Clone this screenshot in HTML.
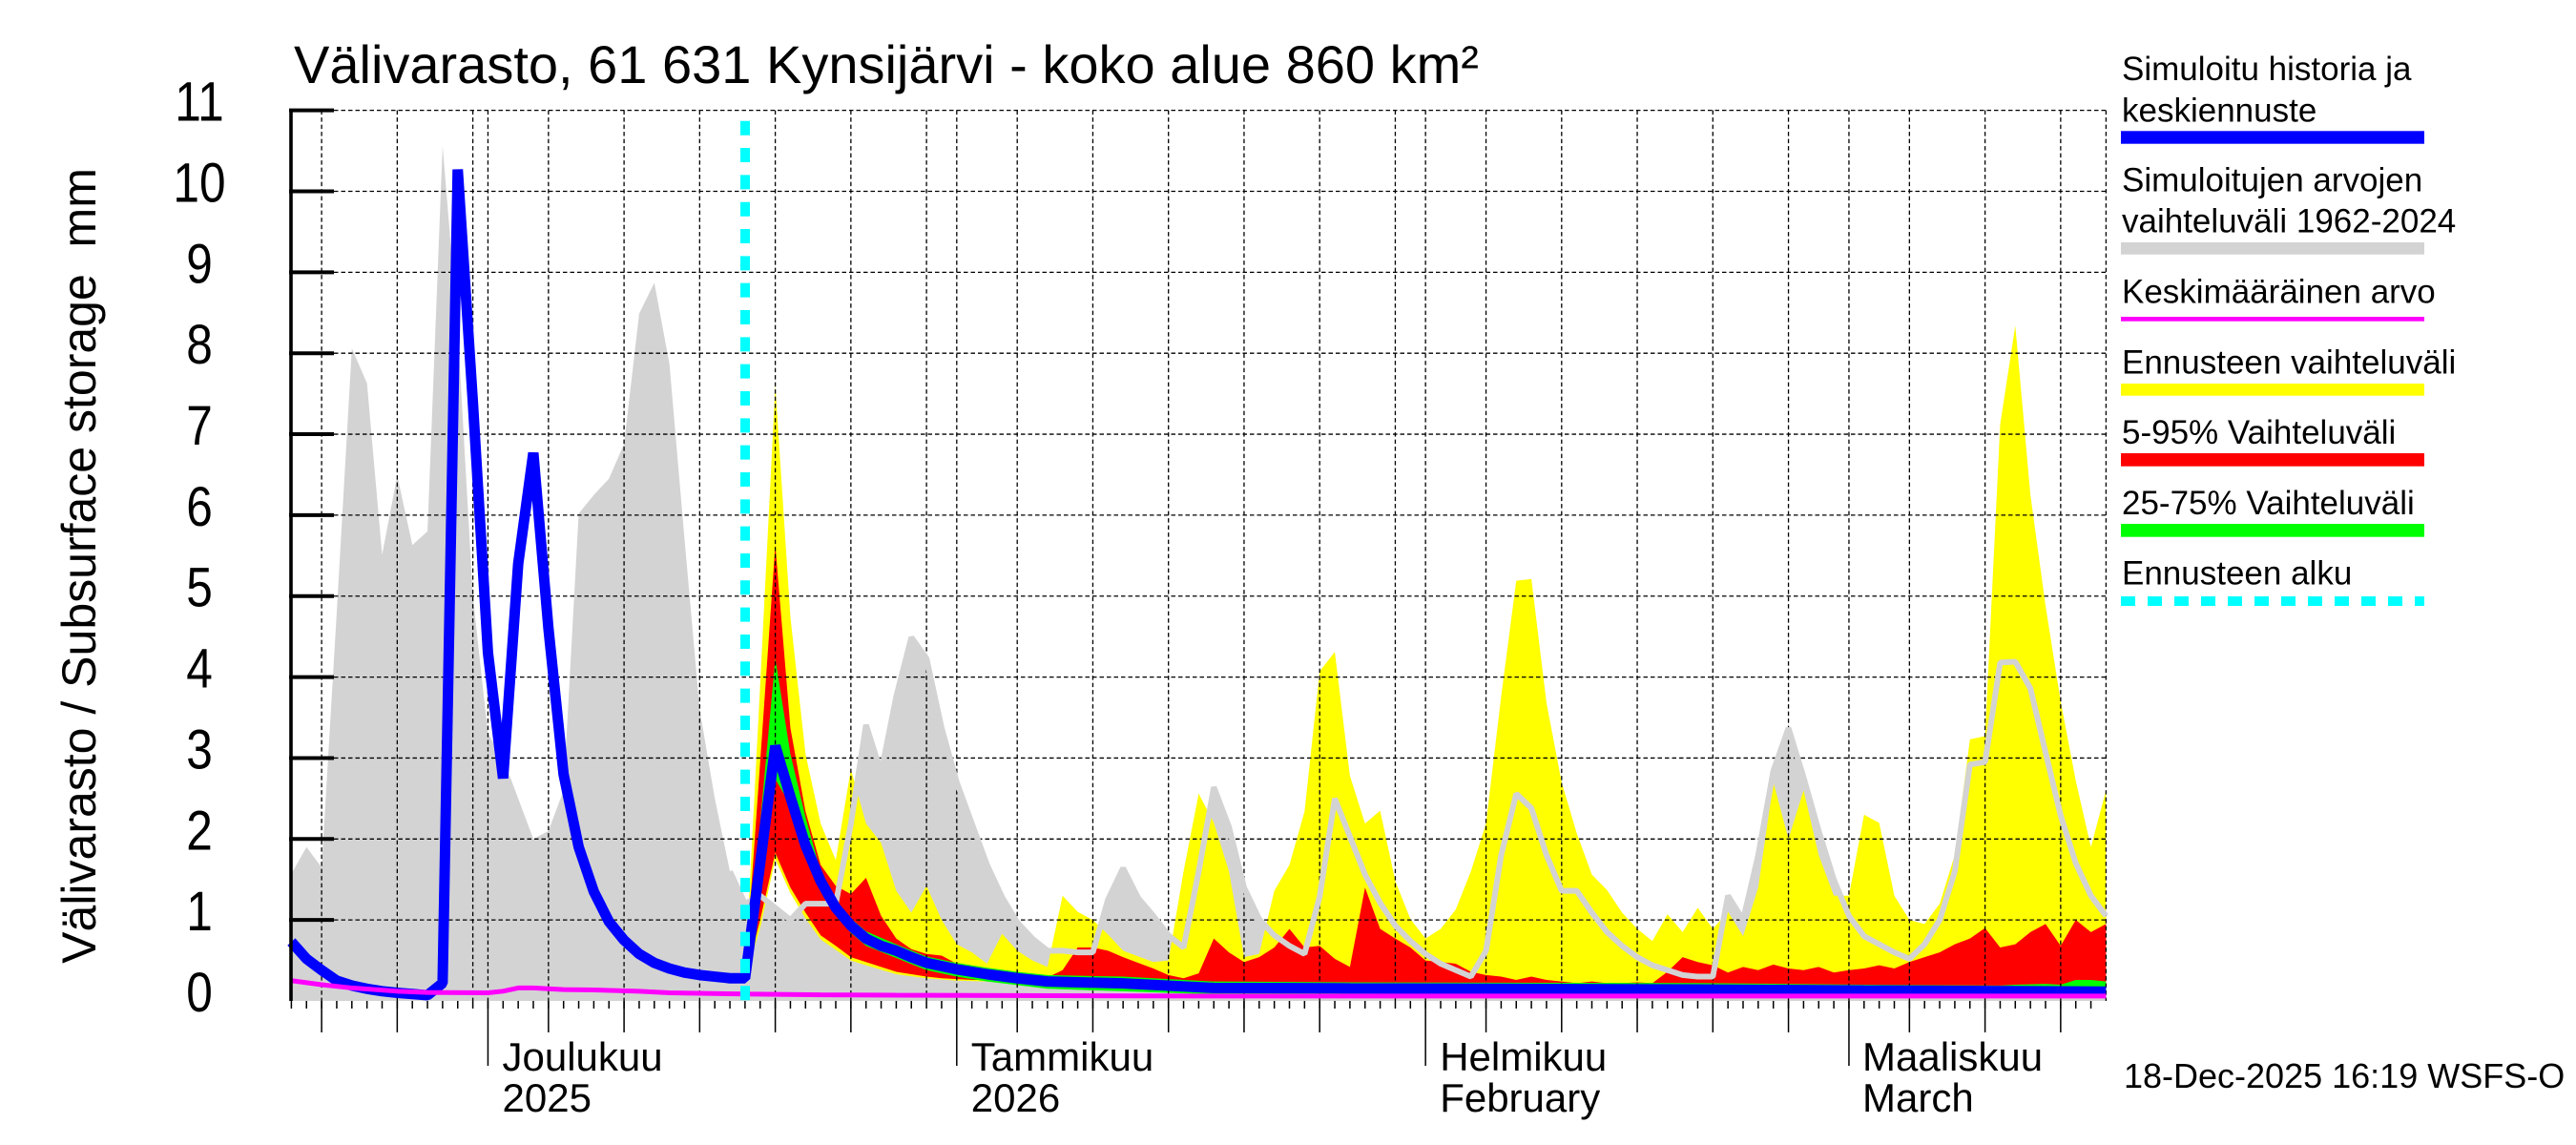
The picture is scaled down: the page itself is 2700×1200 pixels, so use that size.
<!DOCTYPE html>
<html><head><meta charset="utf-8"><style>
html,body{margin:0;padding:0;background:#fff}
svg{display:block}
text{font-family:"Liberation Sans",Arial,sans-serif;fill:#000}
</style></head><body>
<svg width="2700" height="1200" viewBox="0 0 2700 1200" xmlns="http://www.w3.org/2000/svg">
<rect width="2700" height="1200" fill="#fff"/>

<!-- fills in data coords: x = 305.4 + 15.85*i, y = 1049 - 84.85*v -->
<g transform="matrix(15.85 0 0 -84.85 305.4 1049)" stroke="none">
<polygon fill="#d3d3d3" points="0,0 0,1.57 1,1.9 2,1.65 3,4.8 4,8.06 5,7.63 6,5.51 7,6.49 8,5.63 9,5.8 10,10.56 11,8.3 12,5.0 13,3.3 14,3.0 15,2.5 16,2.0 17,2.1 18,2.6 19,6.02 20,6.25 21,6.45 22,6.88 23,8.49 24,8.87 25,7.87 26,5.7 27,3.6 28,2.5 29,1.6 30,1.2 31,1.3 32,1.15 33,1.0 34,1.2 35,1.2 36,1.2 37,2.19 38,3.41 39,2.82 40,3.76 41,4.49 42,4.23 43,3.37 44,2.7 45,2.19 46,1.68 47,1.28 48,0.97 49,0.77 50,0.62 51,0.62 52,0.6 53,0.6 54,1.25 55,1.64 56,1.27 57,1.05 58,0.81 59,0.66 60,1.6 61,2.64 62,2.15 63,1.4 64,1.01 65,0.81 66,0.68 67,0.58 68,1.29 69,2.5 70,2.03 71,1.56 72,1.21 73,0.93 74,0.74 75,0.58 76,0.46 77,0.38 78,0.3 79,0.62 80,1.8 81,2.56 82,2.38 83,1.8 84,1.36 85,1.36 86,1.09 87,0.85 88,0.68 89,0.54 90,0.44 91,0.38 92,0.32 93,0.3 94,0.3 95,1.3 96,1.0 97,1.8 98,2.84 99,3.37 100,2.76 101,2.1 102,1.5 103,1.05 104,0.8 105,0.7 106,0.6 107,0.52 108,0.7 109,1.0 110,1.6 111,2.92 112,2.95 113,4.18 114,4.19 115,3.86 116,3.07 117,2.29 118,1.7 119,1.3 120,1.05 120,0"/>
<polygon fill="#ffff00" points="30,0.3 31,3.9 32,7.6 33,4.74 34,3.05 35,2.19 36,1.74 37,2.86 38,2.19 39,1.95 40,1.36 41,1.09 42,1.42 43,1.0 44,0.7 45,0.6 46,0.46 47,0.83 48,0.62 49,0.5 50,0.42 51,1.3 52,1.1 53,1.0 54,0.82 55,0.62 56,0.55 57,0.48 58,0.5 59,1.6 60,2.56 61,2.2 62,1.6 63,0.54 64,0.58 65,1.36 66,1.68 67,2.34 68,4.07 69,4.31 70,2.78 71,2.19 72,2.35 73,1.48 74,1.01 75,0.77 76,0.89 77,1.13 78,1.6 79,2.19 80,3.76 81,5.19 82,5.21 83,3.68 84,2.7 85,2.07 86,1.56 87,1.37 88,1.09 89,0.89 90,0.74 91,1.07 92,0.85 93,1.15 94,0.89 95,1.1 96,0.8 97,1.4 98,2.7 99,2.0 100,2.6 101,1.8 102,1.3 103,1.3 104,2.3 105,2.2 106,1.3 107,1.0 108,0.95 109,1.2 110,1.8 111,3.23 112,3.27 113,7.12 114,8.34 115,6.25 116,4.88 117,3.7 118,2.72 119,1.9 120,2.6 120,0.09 104,0.1 94,0.12 70,0.13 61,0.14 55,0.19 50,0.21 48,0.24 46,0.24 44,0.25 42,0.28 40,0.33 38,0.44 37,0.5 36,0.63 35,0.76 34,1.02 33,1.33 32,1.75 31,0.9 30,0.28"/>
<polygon fill="#ff0000" points="30,0.3 31,2.95 32,5.63 33,3.37 34,2.34 35,1.68 36,1.42 37,1.32 38,1.52 39,1.05 40,0.77 41,0.64 42,0.58 43,0.56 44,0.46 45,0.4 46,0.34 47,0.34 48,0.32 49,0.3 50,0.29 51,0.38 52,0.66 53,0.66 54,0.62 55,0.54 56,0.47 57,0.4 58,0.32 59,0.28 60,0.34 61,0.77 62,0.6 63,0.48 64,0.54 65,0.66 66,0.89 67,0.66 68,0.68 69,0.52 70,0.42 71,1.4 72,0.89 73,0.77 74,0.66 75,0.5 76,0.48 77,0.46 78,0.36 79,0.32 80,0.3 81,0.26 82,0.3 83,0.26 84,0.24 85,0.22 86,0.24 87,0.22 88,0.22 89,0.23 90,0.22 91,0.36 92,0.54 93,0.48 94,0.44 95,0.35 96,0.42 97,0.38 98,0.45 99,0.4 100,0.38 101,0.42 102,0.35 103,0.38 104,0.4 105,0.44 106,0.4 107,0.48 108,0.54 109,0.6 110,0.7 111,0.77 112,0.9 113,0.66 114,0.7 115,0.85 116,0.95 117,0.68 118,1.0 119,0.85 120,0.95 120,0.09 104,0.1 94,0.12 70,0.13 61,0.14 55,0.19 50,0.21 48,0.24 46,0.26 45,0.26 44,0.27 43,0.28 42,0.3 41,0.33 40,0.36 39,0.42 38,0.48 37,0.54 36,0.68 35,0.81 34,1.09 33,1.4 32,1.83 31,1.0 30,0.28"/>
<polygon fill="#00ff00" points="30,0.28 31,2.2 32,4.23 33,3.05 34,2.27 35,1.6 36,1.25 37,1.02 38,0.86 40,0.7 42,0.55 44,0.47 46,0.41 48,0.36 50,0.32 55,0.3 61,0.24 70,0.23 94,0.22 104,0.2 113,0.19 114,0.2 116,0.21 117,0.2 118,0.26 119,0.26 120,0.24 120,0.05 94,0.07 61,0.08 50,0.15 46,0.24 44,0.3 42,0.38 40,0.53 38,0.68 37,0.84 36,1.06 35,1.38 34,1.82 33,2.42 32,2.74 31,1.5 30,0.28"/>
</g>

<!-- grid -->
<g stroke="#000" stroke-width="1.3" stroke-dasharray="4.5 3" fill="none">
<path d="M350 115.65H2207.4M350 200.5H2207.4M350 285.35H2207.4M350 370.2H2207.4M350 455.05H2207.4M350 539.9H2207.4M350 624.75H2207.4M350 709.6H2207.4M350 794.45H2207.4M350 879.3H2207.4M350 964.15H2207.4"/>
</g>
<g transform="translate(305.4 0) scale(15.85 1)" stroke="#000" fill="none">
<path vector-effect="non-scaling-stroke" stroke-width="1.3" stroke-dasharray="4.5 3" d="M2 115.65V1049M7 115.65V1049M12 115.65V1049M13 115.65V1049M17 115.65V1049M22 115.65V1049M27 115.65V1049M32 115.65V1049M37 115.65V1049M42 115.65V1049M44 115.65V1049M48 115.65V1049M53 115.65V1049M58 115.65V1049M63 115.65V1049M68 115.65V1049M73 115.65V1049M75 115.65V1049M79 115.65V1049M84 115.65V1049M89 115.65V1049M94 115.65V1049M99 115.65V1049M103 115.65V1049M107 115.65V1049M112 115.65V1049M117 115.65V1049M120 115.65V1049"/>
<path vector-effect="non-scaling-stroke" stroke-width="1.5" d="M0 1049v8M1 1049v8M2 1049v8M3 1049v8M4 1049v8M5 1049v8M6 1049v8M7 1049v8M8 1049v8M9 1049v8M10 1049v8M11 1049v8M12 1049v8M13 1049v8M14 1049v8M15 1049v8M16 1049v8M17 1049v8M18 1049v8M19 1049v8M20 1049v8M21 1049v8M22 1049v8M23 1049v8M24 1049v8M25 1049v8M26 1049v8M27 1049v8M28 1049v8M29 1049v8M30 1049v8M31 1049v8M32 1049v8M33 1049v8M34 1049v8M35 1049v8M36 1049v8M37 1049v8M38 1049v8M39 1049v8M40 1049v8M41 1049v8M42 1049v8M43 1049v8M44 1049v8M45 1049v8M46 1049v8M47 1049v8M48 1049v8M49 1049v8M50 1049v8M51 1049v8M52 1049v8M53 1049v8M54 1049v8M55 1049v8M56 1049v8M57 1049v8M58 1049v8M59 1049v8M60 1049v8M61 1049v8M62 1049v8M63 1049v8M64 1049v8M65 1049v8M66 1049v8M67 1049v8M68 1049v8M69 1049v8M70 1049v8M71 1049v8M72 1049v8M73 1049v8M74 1049v8M75 1049v8M76 1049v8M77 1049v8M78 1049v8M79 1049v8M80 1049v8M81 1049v8M82 1049v8M83 1049v8M84 1049v8M85 1049v8M86 1049v8M87 1049v8M88 1049v8M89 1049v8M90 1049v8M91 1049v8M92 1049v8M93 1049v8M94 1049v8M95 1049v8M96 1049v8M97 1049v8M98 1049v8M99 1049v8M100 1049v8M101 1049v8M102 1049v8M103 1049v8M104 1049v8M105 1049v8M106 1049v8M107 1049v8M108 1049v8M109 1049v8M110 1049v8M111 1049v8M112 1049v8M113 1049v8M114 1049v8M115 1049v8M116 1049v8M117 1049v8M118 1049v8M119 1049v8"/>
<path vector-effect="non-scaling-stroke" stroke-width="1.5" d="M2 1049v33M7 1049v33M17 1049v33M22 1049v33M27 1049v33M32 1049v33M37 1049v33M48 1049v33M53 1049v33M58 1049v33M63 1049v33M68 1049v33M79 1049v33M84 1049v33M89 1049v33M94 1049v33M99 1049v33M107 1049v33M112 1049v33M117 1049v33"/>
<path vector-effect="non-scaling-stroke" stroke-width="1.5" d="M13 1049v68M44 1049v68M75 1049v68M103 1049v68"/>
</g>

<!-- lines -->
<g transform="matrix(15.85 0 0 -84.85 305.4 1049)" fill="none" stroke-linejoin="bevel">
<polyline vector-effect="non-scaling-stroke" stroke="#d3d3d3" stroke-width="6" points="29,1.6 30,1.2 31,1.3 32,1.15 33,1.0 34,1.2 35,1.2 36,1.2 37,2.19 38,3.41 39,2.82 40,3.76 41,4.49 42,4.23 43,3.37 44,2.7 45,2.19 46,1.68 47,1.28 48,0.97 49,0.77 50,0.62 51,0.62 52,0.6 53,0.6 54,1.25 55,1.64 56,1.27 57,1.05 58,0.81 59,0.66 60,1.6 61,2.64 62,2.15 63,1.4 64,1.01 65,0.81 66,0.68 67,0.58 68,1.29 69,2.5 70,2.03 71,1.56 72,1.21 73,0.93 74,0.74 75,0.58 76,0.46 77,0.38 78,0.3 79,0.62 80,1.8 81,2.56 82,2.38 83,1.8 84,1.36 85,1.36 86,1.09 87,0.85 88,0.68 89,0.54 90,0.44 91,0.38 92,0.32 93,0.3 94,0.3 95,1.3 96,1.0 97,1.8 98,2.84 99,3.37 100,2.76 101,2.1 102,1.5 103,1.05 104,0.8 105,0.7 106,0.6 107,0.52 108,0.7 109,1.0 110,1.6 111,2.92 112,2.95 113,4.18 114,4.19 115,3.86 116,3.07 117,2.29 118,1.7 119,1.3 120,1.05"/>
<polyline vector-effect="non-scaling-stroke" stroke="#0000ff" stroke-width="11" points="0,0.73 1,0.52 2,0.38 3,0.25 4,0.19 5,0.15 6,0.12 7,0.1 8,0.085 9,0.07 10,0.22 11,10.27 12,7.4 13,4.3 14,2.75 15,5.4 16,6.77 17,4.6 18,2.8 19,1.9 20,1.35 21,0.98 22,0.75 23,0.58 24,0.47 25,0.4 26,0.35 27,0.32 28,0.3 29,0.28 30,0.28 31,1.7 32,3.15 33,2.52 34,1.92 35,1.48 36,1.15 37,0.93 38,0.77 39,0.68 40,0.62 41,0.54 42,0.47 43,0.43 44,0.39 46,0.33 48,0.28 50,0.24 55,0.216 61,0.16 70,0.155 80,0.15 94,0.14 104,0.13 120,0.115"/>
<polyline vector-effect="non-scaling-stroke" stroke="#ff00ff" stroke-width="5" points="0,0.25 2,0.2 4,0.16 7,0.12 9,0.105 13,0.1 14,0.12 15,0.16 16,0.16 17,0.15 18,0.14 20,0.135 23,0.12 25,0.1 30,0.085 35,0.075 40,0.07 60,0.06 120,0.06"/>
</g>

<!-- forecast start -->
<line x1="781" y1="126.7" x2="781" y2="1049" stroke="#00ffff" stroke-width="10" stroke-dasharray="15 13.33"/>

<!-- y axis -->
<line x1="305" y1="114" x2="305" y2="1049" stroke="#000" stroke-width="3.6"/>
<path stroke="#000" stroke-width="4" d="M303 115.65H350M303 200.5H350M303 285.35H350M303 370.2H350M303 455.05H350M303 539.9H350M303 624.75H350M303 709.6H350M303 794.45H350M303 879.3H350M303 964.15H350"/>

<g transform="translate(209 0) scale(0.855 1)" font-size="58" text-anchor="middle">
<text x="0" y="1060">0</text>
<text x="0" y="975.15">1</text>
<text x="0" y="890.3">2</text>
<text x="0" y="805.45">3</text>
<text x="0" y="720.6">4</text>
<text x="0" y="635.75">5</text>
<text x="0" y="550.9">6</text>
<text x="0" y="466.05">7</text>
<text x="0" y="381.2">8</text>
<text x="0" y="296.35">9</text>
<text x="0" y="211.5">10</text>
<text x="0" y="126.65">11</text>
</g>

<text transform="translate(100 593) rotate(-90)" text-anchor="middle" font-size="50">Välivarasto / Subsurface storage&#160; mm</text>

<text x="308" y="87" font-size="56">Välivarasto, 61 631 Kynsijärvi - koko alue 860 km²</text>

<!-- month labels -->
<g font-size="42">
<text x="526.5" y="1122">Joulukuu</text><text x="526.5" y="1165">2025</text>
<text x="1017.8" y="1122">Tammikuu</text><text x="1017.8" y="1165">2026</text>
<text x="1509.2" y="1122">Helmikuu</text><text x="1509.2" y="1165">February</text>
<text x="1952" y="1122">Maaliskuu</text><text x="1952" y="1165">March</text>
</g>

<text x="2226" y="1140" font-size="36">18-Dec-2025 16:19 WSFS-O</text>

<!-- legend -->
<g font-size="35">
<text x="2224" y="84">Simuloitu historia ja</text>
<text x="2224" y="127.3">keskiennuste</text>
<rect x="2223" y="137.3" width="318" height="13.4" fill="#0000ff"/>
<text x="2224" y="200.7">Simuloitujen arvojen</text>
<text x="2224" y="243.3">vaihteluväli 1962-2024</text>
<rect x="2223" y="254" width="318" height="12.7" fill="#d3d3d3"/>
<text x="2224" y="317.3">Keskimääräinen arvo</text>
<rect x="2223" y="332" width="318" height="4.7" fill="#ff00ff"/>
<text x="2224" y="391.7">Ennusteen vaihteluväli</text>
<rect x="2223" y="402" width="318" height="12.7" fill="#ffff00"/>
<text x="2224" y="465">5-95% Vaihteluväli</text>
<rect x="2223" y="475" width="318" height="13.7" fill="#ff0000"/>
<text x="2224" y="539">25-75% Vaihteluväli</text>
<rect x="2223" y="549" width="318" height="13.7" fill="#00ff00"/>
<text x="2224" y="612.7">Ennusteen alku</text>
<line x1="2223" y1="630" x2="2541" y2="630" stroke="#00ffff" stroke-width="10" stroke-dasharray="15 13"/>
</g>
</svg>
</body></html>
